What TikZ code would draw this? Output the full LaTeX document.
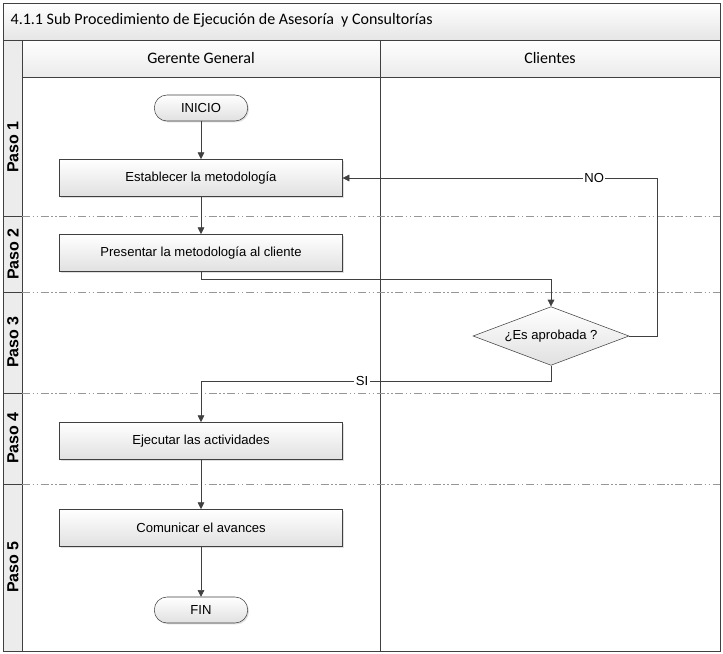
\documentclass[tikz,border=0pt]{standalone}
\usepackage{fontspec}
\setmainfont{Liberation Sans}
\newfontfamily\titlefont{Carlito}
\usetikzlibrary{arrows.meta,shapes.geometric,shadows}

\definecolor{linegray}{RGB}{64,64,64}
\definecolor{sepgray}{RGB}{150,150,150}
\definecolor{stripgray}{RGB}{236,236,236}

\tikzset{
  actbox/.style={draw=linegray, top color=white, bottom color=black!12,
    minimum width=212pt, minimum height=28pt, inner sep=0pt,
    font=\fontsize{9.8}{11}\selectfont,
    drop shadow={shadow xshift=1pt, shadow yshift=-1pt, opacity=0.25}},
  termbox/.style={draw=linegray, top color=white, bottom color=black!12,
    rounded corners=9.5pt, minimum width=70pt, minimum height=19.5pt, inner sep=0pt,
    font=\fontsize{9.8}{11}\selectfont,
    drop shadow={shadow xshift=1pt, shadow yshift=-1pt, opacity=0.25}},
  decbox/.style={diamond, aspect=2.65, draw=linegray, top color=white, bottom color=black!12,
    minimum width=117pt, minimum height=44pt, inner sep=0pt,
    font=\fontsize{9.8}{11}\selectfont},
  flow/.style={draw=linegray, -{Triangle[length=5pt,width=5pt]}},
  steplabel/.style={rotate=90, font=\bfseries\fontsize{12}{14}\selectfont},
  lanehead/.style={font=\titlefont\fontsize{12}{14}\selectfont},
  sepline/.style={draw=sepgray, line width=0.6pt,
    dash pattern={on 6pt off 2pt on 1pt off 2pt on 1pt off 2pt}},
  edgelabel/.style={fill=white, inner sep=1pt, font=\fontsize{9.8}{11}\selectfont}
}

\begin{document}
\begin{tikzpicture}[x=0.75pt,y=0.75pt,yscale=-1,xscale=1]
\useasboundingbox (0,0) rectangle (723,653);

% Frame and header bands
\fill[white] (0,0) rectangle (723,653);
\shade[top color=white, bottom color=black!10] (3,3) rectangle (720,40);
\shade[top color=white, bottom color=black!8] (22,40) rectangle (720,77);
\fill[stripgray] (3,40) rectangle (22,651);
\draw[linegray] (3,3) rectangle (720,651);
\draw[linegray] (3,40) -- (720,40);
\draw[linegray] (22,77) -- (720,77);
\draw[linegray] (22,40) -- (22,651);
\draw[linegray] (380,40) -- (380,651);

% Title and lane heads
\node[lanehead, anchor=west] (title) at (6,20) {4.1.1 Sub Procedimiento de Ejecución de Asesoría\ \ y Consultorías};
\node[lanehead] (gerente) at (201,58) {Gerente General};
\node[lanehead] (clientes) at (550,58) {Clientes};

% Step separators
\foreach \y in {216,292,393,484}{
  \draw[linegray] (3,\y) -- (22,\y);
  \draw[sepline] (22,\y) -- (720,\y);
}

% Step labels
\node[steplabel] (paso1) at (13,147) {Paso 1};
\node[steplabel] (paso2) at (13,254) {Paso 2};
\node[steplabel] (paso3) at (13,342) {Paso 3};
\node[steplabel] (paso4) at (13,438) {Paso 4};
\node[steplabel] (paso5) at (13,567) {Paso 5};

% Shapes
\node[termbox] (inicio) at (201,108) {INICIO};
\node[actbox] (estab) at (201,178) {Establecer la metodología};
\node[actbox] (present) at (201,253) {Presentar la metodología al cliente};
\node[decbox] (aprob) at (551,336) {¿Es aprobada ?};
\node[actbox] (ejec) at (201,441) {Ejecutar las actividades};
\node[actbox] (comun) at (201,528) {Comunicar el avances};
\node[termbox] (fin) at (201,610) {FIN};

% Bends
\coordinate (toaprob) at (551,279);
\coordinate (nobend) at (657,178);
\coordinate (sibend) at (551,381);

% Connectors
\draw[flow] (inicio) -- (estab);
\draw[flow] (estab) -- (present);
\draw[flow] (present.south) |- (toaprob) -- (aprob.north);
\draw[flow] (aprob.east) -| (nobend) -- node[edgelabel, pos=0.2] {NO} (estab.east);
\draw[flow] (aprob.south) -- (sibend) -| node[edgelabel, pos=0.27] {SI} (ejec.north);
\draw[flow] (ejec) -- (comun);
\draw[flow] (comun) -- (fin);

\end{tikzpicture}
\end{document}
